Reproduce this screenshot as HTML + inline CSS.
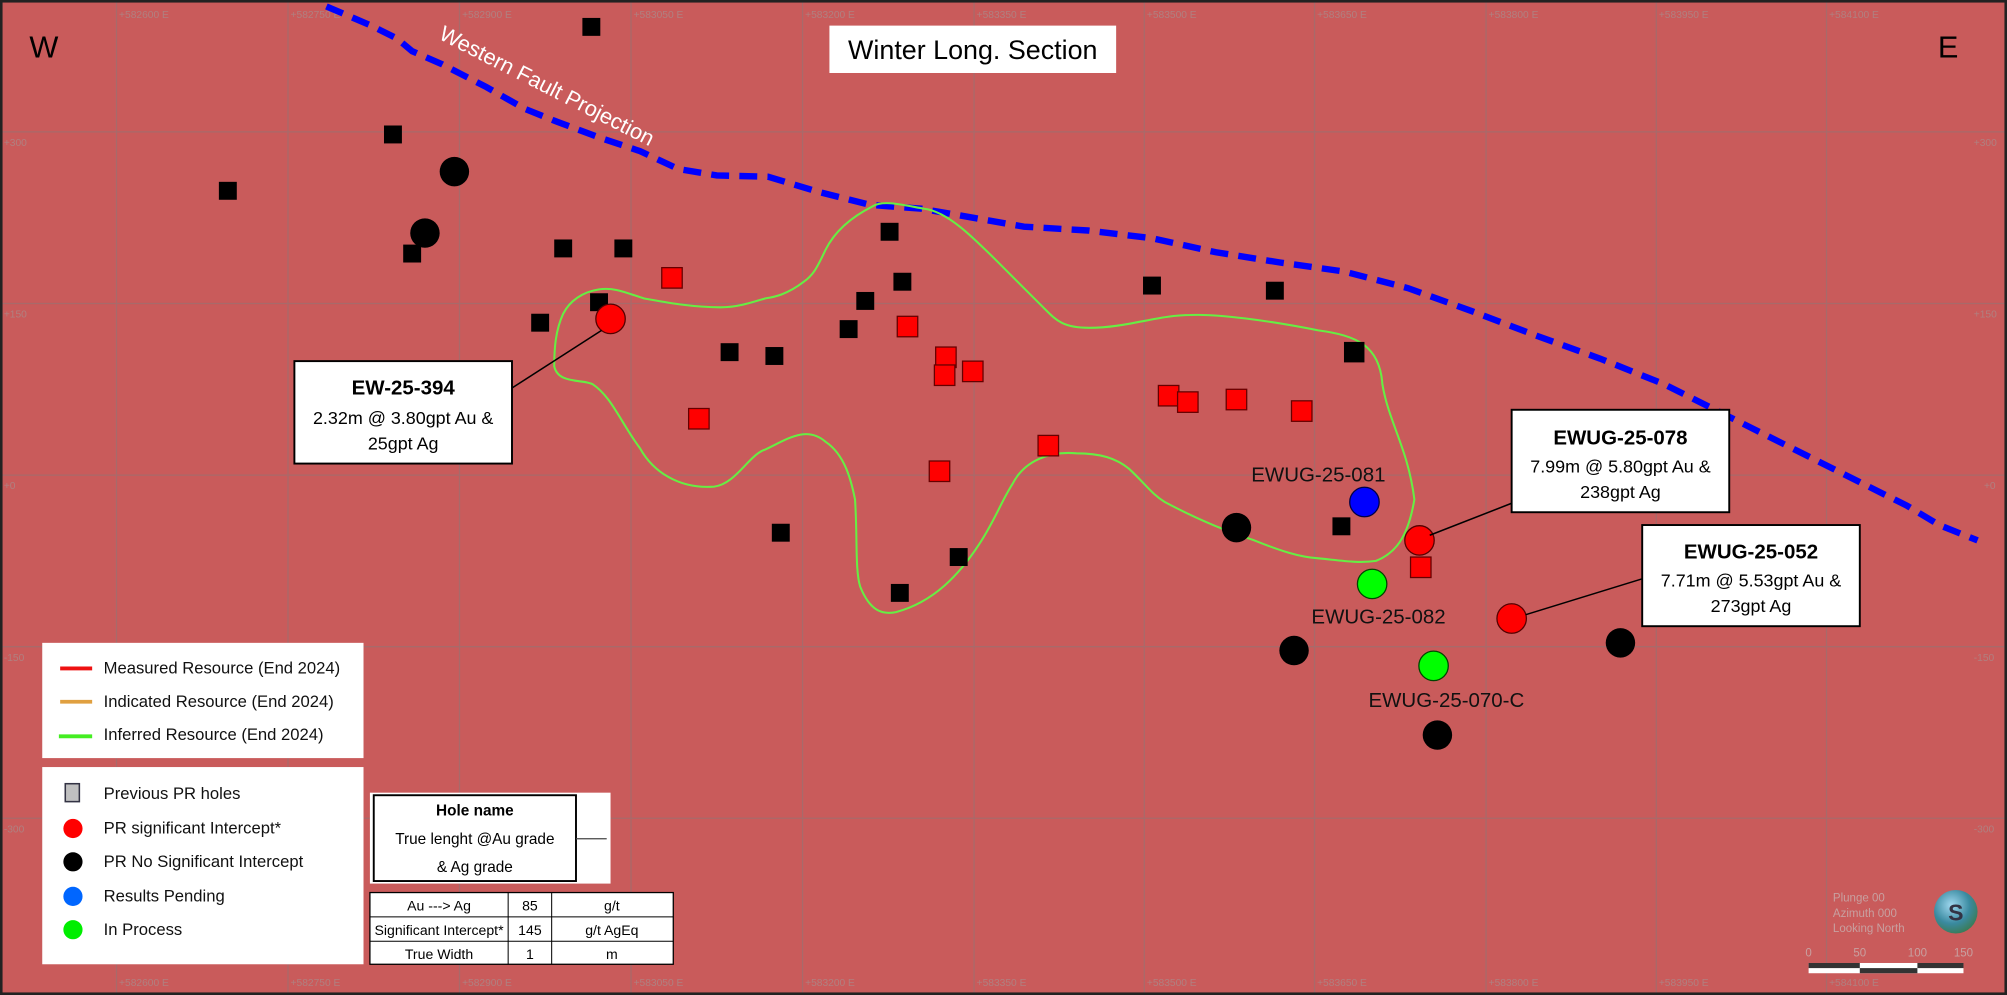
<!DOCTYPE html>
<html><head><meta charset="utf-8"><style>
html,body{margin:0;padding:0;background:#c85a5a;}
svg{display:block;}
text{font-family:"Liberation Sans",sans-serif;}
</style></head><body>
<svg width="2007" height="995" viewBox="0 0 1568 777" preserveAspectRatio="none" xmlns="http://www.w3.org/2000/svg">
<rect x="0" y="0" width="1568" height="777" fill="#c95b5b"/>
<g stroke="#a86a6a" stroke-width="1">
<line x1="91" y1="0" x2="91" y2="777"/><line x1="225" y1="0" x2="225" y2="777"/><line x1="359" y1="0" x2="359" y2="777"/><line x1="493" y1="0" x2="493" y2="777"/><line x1="627" y1="0" x2="627" y2="777"/><line x1="761" y1="0" x2="761" y2="777"/><line x1="894" y1="0" x2="894" y2="777"/><line x1="1027" y1="0" x2="1027" y2="777"/><line x1="1161" y1="0" x2="1161" y2="777"/><line x1="1294" y1="0" x2="1294" y2="777"/><line x1="1427" y1="0" x2="1427" y2="777"/>
<line x1="0" y1="103" x2="1568" y2="103"/><line x1="0" y1="237" x2="1568" y2="237"/><line x1="0" y1="371" x2="1568" y2="371"/><line x1="0" y1="505" x2="1568" y2="505"/><line x1="0" y1="639" x2="1568" y2="639"/>
</g>
<g fill="#b08080" font-size="8">
<text x="93" y="14">+582600 E</text><text x="227" y="14">+582750 E</text><text x="361" y="14">+582900 E</text><text x="495" y="14">+583050 E</text><text x="629" y="14">+583200 E</text><text x="763" y="14">+583350 E</text><text x="896" y="14">+583500 E</text><text x="1029" y="14">+583650 E</text><text x="1163" y="14">+583800 E</text><text x="1296" y="14">+583950 E</text><text x="1429" y="14">+584100 E</text>
<text x="93" y="770">+582600 E</text><text x="227" y="770">+582750 E</text><text x="361" y="770">+582900 E</text><text x="495" y="770">+583050 E</text><text x="629" y="770">+583200 E</text><text x="763" y="770">+583350 E</text><text x="896" y="770">+583500 E</text><text x="1029" y="770">+583650 E</text><text x="1163" y="770">+583800 E</text><text x="1296" y="770">+583950 E</text><text x="1429" y="770">+584100 E</text>
<text x="3" y="114">+300</text><text x="3" y="248">+150</text><text x="3" y="382">+0</text><text x="3" y="516">-150</text><text x="3" y="650">-300</text>
<text x="1542" y="114">+300</text><text x="1542" y="248">+150</text><text x="1550" y="382">+0</text><text x="1542" y="516">-150</text><text x="1542" y="650">-300</text>
</g>
<text x="23" y="45" font-size="24">W</text>
<text x="1514" y="45" font-size="24">E</text>
<rect x="648" y="20" width="224" height="37" fill="#fff"/>
<text x="760" y="46" font-size="21" text-anchor="middle">Winter Long. Section</text>
<polyline fill="none" stroke="#0000ff" stroke-width="5" stroke-dasharray="14,8" points="255,5 290,20 310,30 322,40 345,50 380,68 410,85 435,95 470,108 500,118 530,132 560,137 600,138 640,150 680,160 720,163 760,170 800,177 850,180 900,186 950,197 1000,205 1050,212 1100,225 1150,243 1200,262 1250,280 1300,300 1350,325 1400,350 1450,375 1490,395 1515,410 1545,422"/>
<text x="342" y="30" font-size="17" fill="#fff" transform="rotate(27 342 30)">Western Fault Projection</text>
<path fill="none" stroke="#66ee44" stroke-width="1.6" d="M433,286 C436,300 455,296 463,300 C478,310 485,330 500,350 C510,368 530,382 558,380 C575,378 585,355 598,351 C615,343 630,332 645,345 C660,355 665,375 668,390 C670,420 668,445 672,458 C680,478 690,480 700,478 C730,470 750,448 765,425 C778,405 782,392 791,378 C800,360 820,352 841,354 C860,354 872,358 882,366 C895,378 900,386 910,392 C940,408 960,415 980,422 C1000,430 1015,435 1030,436 C1050,438 1062,440 1075,438 C1090,432 1100,420 1105,390 C1100,350 1085,330 1080,300 C1078,270 1060,262 1030,258 C990,250 950,245 930,246 C905,246 880,256 851,256 C830,256 825,250 815,240 C800,225 790,215 781,206 C760,185 740,165 722,163 C705,160 690,156 682,161 C660,172 650,185 645,195 C638,210 635,215 628,220 C615,230 605,232 598,233 C585,237 575,240 563,240 C540,240 520,236 503,233 C490,229 480,224 468,226 C455,228 445,235 440,245 C434,258 433,272 433,286 Z"/>
<g fill="#000">
<rect x="455" y="14" width="14" height="14"/><rect x="300" y="98" width="14" height="14"/><rect x="171" y="142" width="14" height="14"/><rect x="315" y="191" width="14" height="14"/><rect x="433" y="187" width="14" height="14"/><rect x="480" y="187" width="14" height="14"/><rect x="415" y="245" width="14" height="14"/><rect x="461" y="229" width="14" height="14"/><rect x="688" y="174" width="14" height="14"/><rect x="698" y="213" width="14" height="14"/><rect x="669" y="228" width="14" height="14"/><rect x="656" y="250" width="14" height="14"/><rect x="563" y="268" width="14" height="14"/><rect x="598" y="271" width="14" height="14"/><rect x="893" y="216" width="14" height="14"/><rect x="989" y="220" width="14" height="14"/><rect x="1050" y="267" width="16" height="16"/><rect x="603" y="409" width="14" height="14"/><rect x="742" y="428" width="14" height="14"/><rect x="696" y="456" width="14" height="14"/><rect x="1041" y="404" width="14" height="14"/>
</g>
<g fill="#ff0000" stroke="#600" stroke-width="1">
<rect x="517" y="209" width="16" height="16"/><rect x="701" y="247" width="16" height="16"/><rect x="731" y="271" width="16" height="16"/><rect x="730" y="285" width="16" height="16"/><rect x="752" y="282" width="16" height="16"/><rect x="538" y="319" width="16" height="16"/><rect x="905" y="301" width="16" height="16"/><rect x="920" y="306" width="16" height="16"/><rect x="958" y="304" width="16" height="16"/><rect x="1009" y="313" width="16" height="16"/><rect x="811" y="340" width="16" height="16"/><rect x="726" y="360" width="16" height="16"/><rect x="1102" y="435" width="16" height="16"/>
</g>
<g fill="#000">
<circle cx="355" cy="134" r="11.5"/><circle cx="332" cy="182" r="11.5"/><circle cx="966" cy="412" r="11.5"/><circle cx="1011" cy="508" r="11.5"/><circle cx="1266" cy="502" r="11.5"/><circle cx="1123" cy="574" r="11.5"/>
</g>
<g fill="#ff0000" stroke="#500" stroke-width="1">
<circle cx="477" cy="249" r="11.5"/><circle cx="1109" cy="422" r="11.5"/><circle cx="1181" cy="483" r="11.5"/>
</g>
<circle cx="1066" cy="392" r="11.5" fill="#0000ff" stroke="#004" stroke-width="1"/>
<circle cx="1072" cy="456" r="11.5" fill="#00ff00" stroke="#040" stroke-width="1"/>
<circle cx="1120" cy="520" r="11.5" fill="#00ff00" stroke="#040" stroke-width="1"/>
<g font-size="16" text-anchor="middle" fill="#111">
<text x="1030" y="376">EWUG-25-081</text><text x="1077" y="487">EWUG-25-082</text><text x="1130" y="552">EWUG-25-070-C</text>
</g>
<g stroke="#000" stroke-width="1.2">
<line x1="400" y1="303" x2="470" y2="258"/><line x1="1181" y1="393" x2="1117" y2="418"/><line x1="1283" y1="452" x2="1192" y2="480"/>
</g>
<g stroke="#000" stroke-width="1.5" fill="#fff">
<rect x="230" y="282" width="170" height="80"/><rect x="1181" y="320" width="170" height="80"/><rect x="1283" y="410" width="170" height="79"/>
</g>
<g text-anchor="middle" fill="#000">
<text x="315" y="308" font-size="16" font-weight="bold">EW-25-394</text><text x="315" y="331" font-size="14">2.32m @ 3.80gpt Au &amp;</text><text x="315" y="351" font-size="14">25gpt Ag</text>
<text x="1266" y="347" font-size="16" font-weight="bold">EWUG-25-078</text><text x="1266" y="369" font-size="14">7.99m @ 5.80gpt Au &amp;</text><text x="1266" y="389" font-size="14">238gpt Ag</text>
<text x="1368" y="436" font-size="16" font-weight="bold">EWUG-25-052</text><text x="1368" y="458" font-size="14">7.71m @ 5.53gpt Au &amp;</text><text x="1368" y="478" font-size="14">273gpt Ag</text>
</g>
<rect x="33" y="502" width="251" height="90" fill="#fff"/>
<line x1="47" y1="522" x2="72" y2="522" stroke="#ee1111" stroke-width="3"/>
<line x1="47" y1="548" x2="72" y2="548" stroke="#e0a040" stroke-width="3"/>
<line x1="46" y1="575" x2="72" y2="575" stroke="#44ee22" stroke-width="3"/>
<g font-size="13" fill="#111"><text x="81" y="526">Measured  Resource (End 2024)</text><text x="81" y="552">Indicated  Resource (End 2024)</text><text x="81" y="578">Inferred  Resource (End 2024)</text></g>
<rect x="33" y="599" width="251" height="154" fill="#fff"/>
<rect x="51" y="612" width="11" height="14" fill="#c0c0c0" stroke="#334" stroke-width="1.2"/>
<circle cx="57" cy="647" r="7.5" fill="#ff0000"/><circle cx="57" cy="673" r="7.5" fill="#000"/><circle cx="57" cy="700" r="7.5" fill="#0066ff"/><circle cx="57" cy="726" r="7.5" fill="#00ee00"/>
<g font-size="13" fill="#111"><text x="81" y="624">Previous PR holes</text><text x="81" y="651">PR significant Intercept*</text><text x="81" y="677">PR No Significant Intercept</text><text x="81" y="704">Results Pending</text><text x="81" y="730">In Process</text></g>
<rect x="289" y="619" width="188" height="71" fill="#fff"/>
<rect x="292" y="621" width="158" height="67" fill="#fff" stroke="#000" stroke-width="1.5"/>
<line x1="450" y1="655" x2="474" y2="655" stroke="#444" stroke-width="1"/>
<g font-size="12" text-anchor="middle" fill="#000"><text x="371" y="637" font-weight="bold">Hole name</text><text x="371" y="659">True lenght @Au grade</text><text x="371" y="681">&amp; Ag grade</text></g>
<rect x="289" y="697" width="237" height="56" fill="#fff" stroke="#000" stroke-width="1"/>
<g stroke="#000" stroke-width="0.8"><line x1="289" y1="716" x2="526" y2="716"/><line x1="289" y1="735" x2="526" y2="735"/><line x1="397" y1="697" x2="397" y2="753"/><line x1="431" y1="697" x2="431" y2="753"/></g>
<g font-size="11" text-anchor="middle" fill="#000">
<text x="343" y="711">Au ---&gt; Ag</text><text x="414" y="711">85</text><text x="478" y="711">g/t</text>
<text x="343" y="730">Significant Intercept*</text><text x="414" y="730">145</text><text x="478" y="730">g/t AgEq</text>
<text x="343" y="749">True Width</text><text x="414" y="749">1</text><text x="478" y="749">m</text>
</g>
<g font-size="9" fill="#c8a0a0"><text x="1432" y="704">Plunge 00</text><text x="1432" y="716">Azimuth 000</text><text x="1432" y="728">Looking North</text>
<text x="1413" y="747" text-anchor="middle">0</text><text x="1453" y="747" text-anchor="middle">50</text><text x="1498" y="747" text-anchor="middle">100</text><text x="1534" y="747" text-anchor="middle">150</text></g>
<defs><radialGradient id="g" cx="0.4" cy="0.35" r="0.7"><stop offset="0" stop-color="#a0d8f0"/><stop offset="0.6" stop-color="#3a8aa0"/><stop offset="1" stop-color="#3a7a50"/></radialGradient></defs>
<circle cx="1528" cy="712" r="17" fill="url(#g)"/>
<text x="1528" y="719" font-size="18" font-weight="bold" text-anchor="middle" fill="#334">S</text>
<rect x="1413" y="752" width="121" height="8" fill="#fff"/>
<rect x="1413" y="752" width="40" height="4" fill="#333"/><rect x="1453" y="756" width="45" height="4" fill="#333"/><rect x="1498" y="752" width="36" height="4" fill="#333"/>
<rect x="1" y="1" width="1566" height="775" fill="none" stroke="#222" stroke-width="2"/>
</svg>
</body></html>
